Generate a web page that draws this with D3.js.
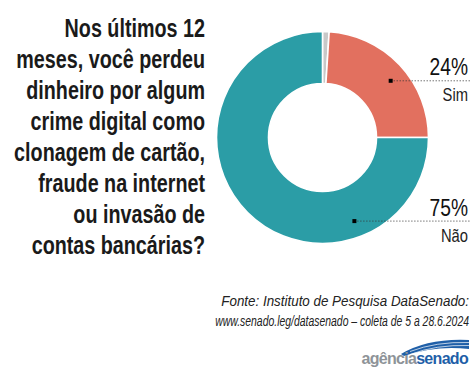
<!DOCTYPE html>
<html>
<head>
<meta charset="utf-8">
<script src="https://cdn.jsdelivr.net/npm/d3@7"></script>
<style>
  html, body { margin: 0; padding: 0; background: #fff; }
  svg { display: block; }
</style>
</head>
<body>
<div id="chart"></div>
<script>
// data
const titleLines = [
  'Nos últimos 12',
  'meses, você perdeu',
  'dinheiro por algum',
  'crime digital como',
  'clonagem de cartão,',
  'fraude na internet',
  'ou invasão de',
  'contas bancárias?'
];
const categories = ['NS/NR', 'Sim', 'Não'];
const values = [1, 24, 75];
const colors = ['#c8c8c8', '#e2705f', '#2b9da6'];
const labelled = ['Sim', 'Não'];
const sourceLines = [
  'Fonte: Instituto de Pesquisa DataSenado:',
  'www.senado.leg/datasenado – coleta de 5 a 28.6.2024'
];

const width = 471;
const height = 370;
const cx = 322.5, cy = 137.5;
const outerR = 106, innerR = 54;
// where the leader line leaves each slice (degrees clockwise from top)
const markerAngle = { 'Sim': 50, 'Não': 159 };
const markerR = 89;
// condensed look: the source lines are squeezed to these widths
const sourceWidths = [248, 254];

const table = categories.map((c, i) => ({ name: c, value: values[i], color: colors[i] }));

const svg = d3.select('#chart')
  .append('svg')
  .attr('width', width)
  .attr('height', height);

// title
const title = svg.append('g')
  .attr('transform', 'translate(205,0) scale(0.79,1)')
  .style('font-family', '"Liberation Sans", Arial, sans-serif')
  .style('font-weight', 'bold')
  .style('font-size', '25px')
  .attr('fill', '#1a1a1a')
  .attr('text-anchor', 'end');

title.selectAll('text')
  .data(titleLines)
  .join('text')
  .attr('x', 0)
  .attr('y', (d, i) => 37 + i * 31)
  .text(d => d);

// donut
const pie = d3.pie().sort(null).value(d => d.value);
const arc = d3.arc().innerRadius(innerR).outerRadius(outerR);
const arcs = pie(table);

const donut = svg.append('g')
  .attr('transform', `translate(${cx},${cy})`);

donut.selectAll('path')
  .data(arcs)
  .join('path')
  .attr('d', arc)
  .attr('fill', d => d.data.color)
  .attr('stroke', '#fff')
  .attr('stroke-width', 1.6);

// labels
const labelData = arcs.filter(d => labelled.includes(d.data.name)).map(d => {
  const a = markerAngle[d.data.name] * Math.PI / 180;
  return {
    name: d.data.name,
    value: d.data.value,
    x: cx + markerR * Math.sin(a),
    y: cy - markerR * Math.cos(a)
  };
});

const lab = svg.append('g')
  .selectAll('g')
  .data(labelData)
  .join('g');

lab.append('line')
  .attr('x1', d => d.x)
  .attr('x2', width)
  .attr('y1', d => d.y + 0.5)
  .attr('y2', d => d.y + 0.5)
  .attr('stroke', '#333')
  .attr('stroke-width', 1)
  .attr('stroke-dasharray', '1,2');

lab.append('rect')
  .attr('x', d => d.x - 2)
  .attr('y', d => d.y - 1.5)
  .attr('width', 4)
  .attr('height', 4)
  .attr('fill', '#000');

lab.append('text')
  .attr('transform', d => `translate(468,${d.y - 5}) scale(0.8,1)`)
  .attr('text-anchor', 'end')
  .style('font-family', '"Liberation Sans", Arial, sans-serif')
  .style('font-size', '24px')
  .attr('fill', '#111')
  .text(d => d.value + '%');

lab.append('text')
  .attr('transform', d => `translate(468,${d.y + 21}) scale(0.82,1)`)
  .attr('text-anchor', 'end')
  .style('font-family', '"Liberation Sans", Arial, sans-serif')
  .style('font-size', '18px')
  .attr('fill', '#222')
  .text(d => d.name);

// source, each line squeezed horizontally to its width
svg.append('g')
  .attr('text-anchor', 'end')
  .style('font-family', '"Liberation Sans", Arial, sans-serif')
  .style('font-style', 'italic')
  .style('font-size', '15.5px')
  .attr('fill', '#222')
  .selectAll('text')
  .data(sourceLines)
  .join('text')
  .text(d => d)
  .attr('transform', function (d, i) {
    const k = sourceWidths[i] / this.getComputedTextLength();
    return `translate(469,${306 + i * 20}) scale(${k},1)`;
  });

// logo
const logo = svg.append('g');
logo.append('path')
  .attr('d', 'M401,354 Q428,338 469,340 L469,349 Q436,345 404,356 Z')
  .attr('fill', '#1f5fa8');
[343.5, 346.5].forEach(y => {
  logo.append('path')
    .attr('d', `M410,${y + 8} Q436,${y - 2} 469,${y - 1}`)
    .attr('fill', 'none')
    .attr('stroke', '#fff')
    .attr('stroke-width', 0.7);
});
const logoText = logo.append('text')
  .attr('x', 468)
  .attr('y', 364)
  .attr('text-anchor', 'end')
  .style('font-family', '"Liberation Sans", Arial, sans-serif')
  .style('font-weight', 'bold')
  .style('font-size', '16px')
  .attr('letter-spacing', '-0.7');
logoText.append('tspan').attr('fill', '#8e9398').text('agência');
logoText.append('tspan').attr('fill', '#1f5fa8').text('senado');
</script>
</body>
</html>
